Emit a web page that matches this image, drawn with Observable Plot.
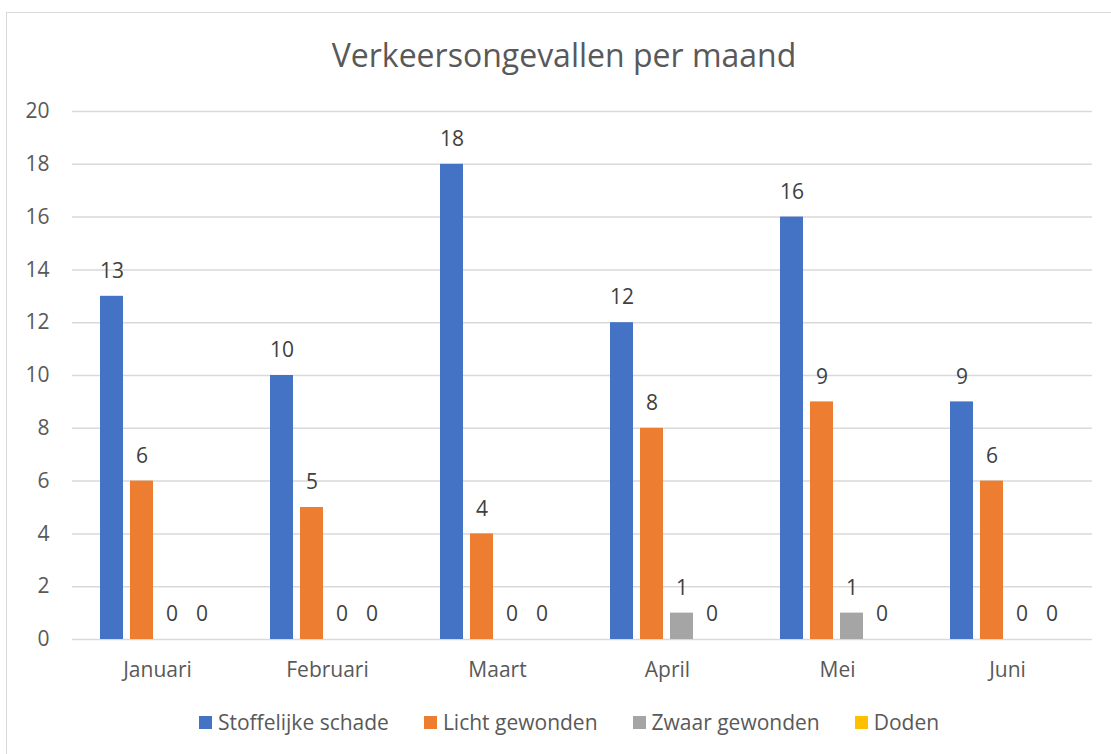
<!DOCTYPE html>
<html>
<head>
<meta charset="utf-8">
<script src="https://cdn.jsdelivr.net/npm/d3@7"></script>
<script src="https://cdn.jsdelivr.net/npm/@observablehq/plot@0.6"></script>
<style>
  html, body { margin: 0; padding: 0; background: #fff; }
  #wrap { position: relative; width: 1111px; height: 754px; overflow: hidden; font-family: "Open Sans", sans-serif; }
  #border { position: absolute; left: 6px; top: 12px; width: 1130px; height: 760px; border: 1.5px solid #d9d9d9; box-sizing: border-box; }
  #title { position: absolute; left: 0; top: 34px; width: 1128px; text-align: center; font-size: 32px; line-height: 42px; color: #595959; }
  #chart { position: absolute; left: 0; top: 80px; }
  #legend { position: absolute; left: 0; top: 707px; width: 1138px; display: flex; justify-content: center; gap: 35px; font-size: 21px; line-height: 30px; color: #595959; }
  .item { display: flex; align-items: center; gap: 6px; }
  .sw { width: 13px; height: 13px; display: inline-block; }
</style>
</head>
<body>
<div id="wrap">
  <div id="border"></div>
  <div id="title">Verkeersongevallen per maand</div>
  <div id="chart"></div>
  <div id="legend"></div>
</div>
<script>
const months = ["Januari", "Februari", "Maart", "April", "Mei", "Juni"];
const series = ["Stoffelijke schade", "Licht gewonden", "Zwaar gewonden", "Doden"];
const stoffelijkeSchade = [13, 10, 18, 12, 16, 9];
const lichtGewonden = [6, 5, 4, 8, 9, 6];
const zwaarGewonden = [0, 0, 0, 1, 1, 0];
const doden = [0, 0, 0, 0, 0, 0];
const yTicks = [0, 2, 4, 6, 8, 10, 12, 14, 16, 18, 20];
const colors = ["#4472C4", "#ED7D31", "#A5A5A5", "#FFC000"];

const valuesBySeries = [stoffelijkeSchade, lichtGewonden, zwaarGewonden, doden];
const data = [];
months.forEach((m, i) => {
  series.forEach((s, j) => {
    data.push({ month: m, series: s, value: valuesBySeries[j][i] });
  });
});

const chart = Plot.plot({
  width: 1111,
  height: 620,
  marginLeft: 71,
  marginRight: 18,
  marginTop: 31,
  marginBottom: 61,
  style: { fontFamily: "'Open Sans', sans-serif", fontSize: "21px", color: "#595959", background: "transparent" },
  fx: { domain: months, padding: 0, label: null, tickSize: 0, tickPadding: 23 },
  x: { domain: series, paddingInner: 0.2258, paddingOuter: 0.86, axis: null },
  y: { domain: [0, 20], ticks: yTicks, tickSize: 0, tickPadding: 23, label: null },
  color: { domain: series, range: colors },
  marks: [
    Plot.gridY(yTicks, { stroke: "#d9d9d9", strokeOpacity: 1, strokeWidth: 1.5 }),
    Plot.barY(data, { fx: "month", x: "series", y: "value", fill: "series" }),
    Plot.text(data, { fx: "month", x: "series", y: "value", text: d => String(d.value), dy: -25, fill: "#404040", fontSize: 21 })
  ]
});
document.getElementById("chart").appendChild(chart);

const legend = document.getElementById("legend");
series.forEach((s, i) => {
  const item = document.createElement("div");
  item.className = "item";
  const sw = document.createElement("span");
  sw.className = "sw";
  sw.style.background = colors[i];
  const label = document.createElement("span");
  label.textContent = s;
  item.appendChild(sw);
  item.appendChild(label);
  legend.appendChild(item);
});
</script>
</body>
</html>
